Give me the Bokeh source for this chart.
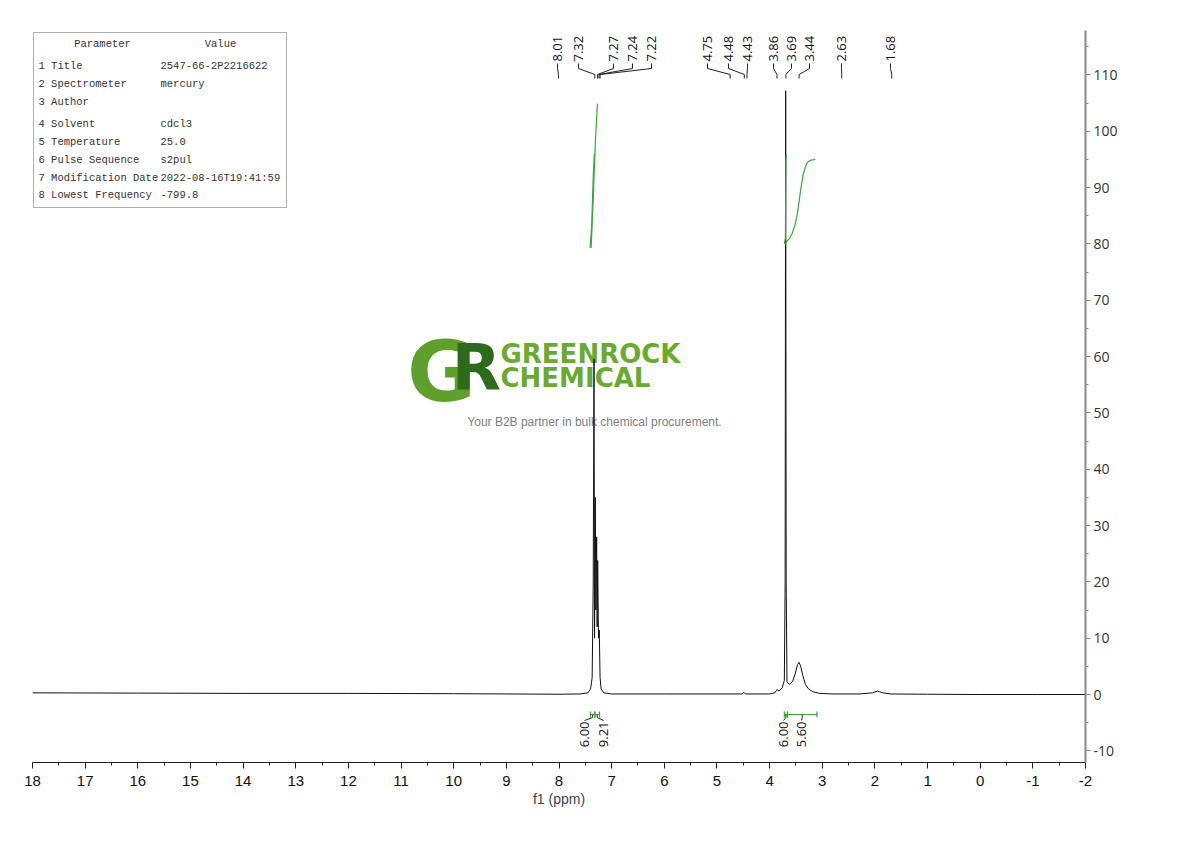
import math
from bokeh.plotting import figure
from bokeh.models import Range1d, FixedTicker, PrintfTickFormatter
from bokeh.core.properties import value
from bokeh.embed import file_html
from bokeh.resources import INLINE

# ---------------- data ----------------
spec_ppm = [18.0, 16.0, 14.0, 12.0, 10.0, 9.0, 8.0, 7.6, 7.45, 7.40, 7.37, 7.35, 7.335, 7.325,
            7.31, 7.30, 7.285, 7.275, 7.265, 7.25, 7.235, 7.22, 7.20, 7.15, 7.0, 6.0, 5.0,
            4.52, 4.49, 4.46, 4.0, 3.90, 3.86, 3.82, 3.76, 3.72, 3.705, 3.695, 3.685, 3.67,
            3.62, 3.56, 3.51, 3.47, 3.44, 3.41, 3.37, 3.32, 3.26, 3.18, 3.05, 2.8, 2.3, 2.05,
            1.95, 1.85, 1.7, 1.0, 0.0, -1.0, -2.0]
spec_int = [0.3, 0.25, 0.2, 0.2, 0.15, 0.1, 0.05, 0.1, 0.3, 1.0, 3.0, 20, 59.6, 10,
            35, 15, 28, 12, 23.8, 10, 11.4, 3, 1, 0.3, 0.1, 0.1, 0.1,
            0.1, 0.4, 0.1, 0.1, 0.3, 0.9, 0.6, 1.2, 2.5, 20, 107.2, 20, 2.2,
            1.8, 2.4, 3.8, 5.3, 5.7, 5.0, 3.4, 1.8, 1.0, 0.5, 0.2, 0.1, 0.1, 0.3,
            0.6, 0.3, 0.1, 0.05, 0.0, 0.0, 0.0]

peak_ppm = [8.01, 7.32, 7.27, 7.24, 7.22, 4.75, 4.48, 4.43, 3.86, 3.69, 3.44, 2.63, 1.68]
peak_labels = ["8.01", "7.32", "7.27", "7.24", "7.22", "4.75", "4.48", "4.43",
               "3.86", "3.69", "3.44", "2.63", "1.68"]

int_a_ppm = [7.41, 7.38, 7.35, 7.33]
int_a_val = [79.3, 83.0, 92.0, 96.0]
int_b_ppm = [7.39, 7.35, 7.31, 7.27]
int_b_val = [79.3, 88.0, 98.0, 104.9]
int_c_ppm = [3.72, 3.70, 3.69, 3.68]
int_c_val = [80.0, 81.0, 95.0, 96.0]
int_d_ppm = [3.70, 3.68, 3.62, 3.57, 3.52, 3.48, 3.45, 3.42, 3.39, 3.36, 3.32, 3.28, 3.22, 3.13]
int_d_val = [79.9, 80.4, 81.0, 81.9, 83.3, 85.0, 86.8, 88.9, 90.8, 92.4, 93.7, 94.5, 94.9, 95.0]

integ_labels = ["6.00", "9.21", "6.00", "5.60"]
integ_from = [7.40, 7.32, 3.72, 3.66]
integ_to = [7.32, 7.23, 3.66, 3.10]

param_names = ["1 Title", "2 Spectrometer", "3 Author", "4 Solvent", "5 Temperature",
               "6 Pulse Sequence", "7 Modification Date", "8 Lowest Frequency"]
param_values = ["2547-66-2P2216622", "mercury", "", "cdcl3", "25.0", "s2pul",
                "2022-08-16T19:41:59", "-799.8"]

x_ticks = list(range(-2, 19))
y_ticks = list(range(-10, 111, 10))

# ---------------- layout helpers (pixel -> data) ----------------
XMAX, XMIN = 18.0, -2.0
YMIN, YMAX = -12.07, 117.9
FX0, FW = 32, 1053
FY0, FH = 30, 732


def px2x(px):
    return XMAX - (px - FX0) * (XMAX - XMIN) / FW


def py2y(py):
    return YMAX - (py - FY0) * (YMAX - YMIN) / FH


peak_label_pos = [px2x(v) for v in [557, 578, 613, 632, 651, 707, 728, 747, 773, 791, 809, 841, 890]]
integ_label_pos = [px2x(v) for v in [584, 603, 783, 801]]
row_py = [65, 83, 101, 123, 141, 159, 177, 194]

p = figure(frame_width=FW, frame_height=FH, x_range=Range1d(XMAX, XMIN),
           y_range=Range1d(YMIN, YMAX), y_axis_location="right",
           toolbar_location=None, output_backend="svg",
           min_border_left=32, min_border_top=30, min_border_right=10, min_border_bottom=10)
p.outline_line_color = None
p.grid.visible = False
p.background_fill_color = "white"

# x axis
xa = p.xaxis[0]
xa.ticker = FixedTicker(ticks=x_ticks, minor_ticks=[v * 0.5 for v in range(-4, 37)])
xa.formatter = PrintfTickFormatter(format="%d")
xa.axis_label = "f1 (ppm)"
xa.axis_label_text_font = "Liberation Sans"
xa.axis_label_text_font_style = "normal"
xa.axis_label_text_font_size = "14px"
xa.axis_label_standoff = 2
xa.major_label_text_font = "Liberation Sans"
xa.major_label_text_font_size = "15px"
xa.major_label_text_color = "#111111"
xa.major_label_standoff = 7
xa.axis_line_color = "#222222"
xa.major_tick_line_color = "#222222"
xa.minor_tick_line_color = "#222222"
xa.major_tick_out = 6
xa.major_tick_in = 0
xa.minor_tick_out = 3
xa.minor_tick_in = 0

# y axis (right)
ya = p.yaxis[0]
ya.ticker = FixedTicker(ticks=y_ticks, minor_ticks=list(range(-10, 116, 5)))
ya.formatter = PrintfTickFormatter(format="%d")
ya.major_label_text_font = "Open Sans"
ya.major_label_text_font_size = "14px"
ya.major_label_text_color = "#333333"
ya.axis_line_color = "#8a8a8a"
ya.axis_line_width = 2
ya.major_tick_line_color = "#8a8a8a"
ya.minor_tick_line_color = "#8a8a8a"
ya.major_tick_out = 5
ya.major_tick_in = 0
ya.minor_tick_out = 3
ya.minor_tick_in = 0
ya.major_label_standoff = 3

# ---------------- watermark logo ----------------
p.text(x=[px2x(441)], y=[py2y(371)], text=["G"], text_font=value("DejaVu Sans"),
       text_font_style="bold", text_font_size="84px", text_color="#5f9f2c",
       text_align="center", text_baseline="middle")
p.text(x=[px2x(476)], y=[py2y(367)], text=["R"], text_font=value("DejaVu Sans"),
       text_font_style="bold", text_font_size="64px", text_color="#2e6a1c",
       text_align="center", text_baseline="middle")
p.text(x=[px2x(500)], y=[py2y(353)], text=["GREENROCK"], text_font=value("DejaVu Sans"),
       text_font_style="bold", text_font_size="26px", text_color="#6aaa2f",
       text_align="left", text_baseline="middle")
p.text(x=[px2x(500)], y=[py2y(377)], text=["CHEMICAL"], text_font=value("DejaVu Sans"),
       text_font_style="bold", text_font_size="26px", text_color="#6aaa2f",
       text_align="left", text_baseline="middle")
p.text(x=[px2x(594)], y=[py2y(421)], text=["Your B2B partner in bulk chemical procurement."],
       text_font=value("Liberation Sans"), text_font_size="12px", text_color="#808080",
       text_align="center", text_baseline="middle")

# ---------------- spectrum ----------------
p.line(spec_ppm, spec_int, line_color="#111111", line_width=1)

# integral curves
for xs, ys in [(int_a_ppm, int_a_val), (int_b_ppm, int_b_val),
               (int_c_ppm, int_c_val), (int_d_ppm, int_d_val)]:
    p.line(xs, ys, line_color="#3aa63a", line_width=1.2)

# ---------------- peak labels ----------------
p.text(x=peak_label_pos, y=[py2y(61)] * len(peak_labels), text=peak_labels,
       angle=math.pi / 2, text_font=value("Open Sans"), text_font_size="13px",
       text_color="#111111", text_align="left", text_baseline="middle")
lead_xs = [[lx, lx, pk, pk] for lx, pk in zip(peak_label_pos, peak_ppm)]
lead_ys = [[py2y(63), py2y(68), py2y(74), py2y(78)] for _ in peak_ppm]
p.multi_line(lead_xs, lead_ys, line_color="#222222", line_width=1)

# ---------------- integration brackets & labels ----------------
yb = py2y(714)
for a, b in zip(integ_from, integ_to):
    p.line([a, b], [yb, yb], line_color="#3aa63a", line_width=1.2)
    p.multi_line([[a, a], [b, b]], [[py2y(711), py2y(717)], [py2y(711), py2y(717)]],
                 line_color="#3aa63a", line_width=1.2)
con_xs = [[(a + b) / 2, (a + b) / 2, lx] for a, b, lx in zip(integ_from, integ_to, integ_label_pos)]
con_ys = [[py2y(714), py2y(717), py2y(720)] for _ in integ_labels]
p.multi_line(con_xs, con_ys, line_color="#222222", line_width=1)
p.text(x=integ_label_pos, y=[py2y(721)] * len(integ_labels), text=integ_labels,
       angle=math.pi / 2, text_font=value("Open Sans"), text_font_size="13px",
       text_color="#111111", text_align="right", text_baseline="middle")

# ---------------- parameter table ----------------
p.quad(left=[px2x(33)], right=[px2x(286)], top=[py2y(32)], bottom=[py2y(207)],
       fill_color="white", line_color="#b0b0b0", line_width=1)
p.text(x=[px2x(102), px2x(220)], y=[py2y(43)] * 2, text=["Parameter", "Value"],
       text_font=value("Liberation Mono"), text_font_size="10.5px", text_color="#333333",
       text_align="center", text_baseline="middle")
p.text(x=[px2x(38)] * len(param_names), y=[py2y(v) for v in row_py], text=param_names,
       text_font=value("Liberation Mono"), text_font_size="10.5px", text_color="#333333",
       text_align="left", text_baseline="middle")
p.text(x=[px2x(160)] * len(param_values), y=[py2y(v) for v in row_py], text=param_values,
       text_font=value("Liberation Mono"), text_font_size="10.5px", text_color="#333333",
       text_align="left", text_baseline="middle")

open("out.html", "w").write(file_html(p, INLINE))
